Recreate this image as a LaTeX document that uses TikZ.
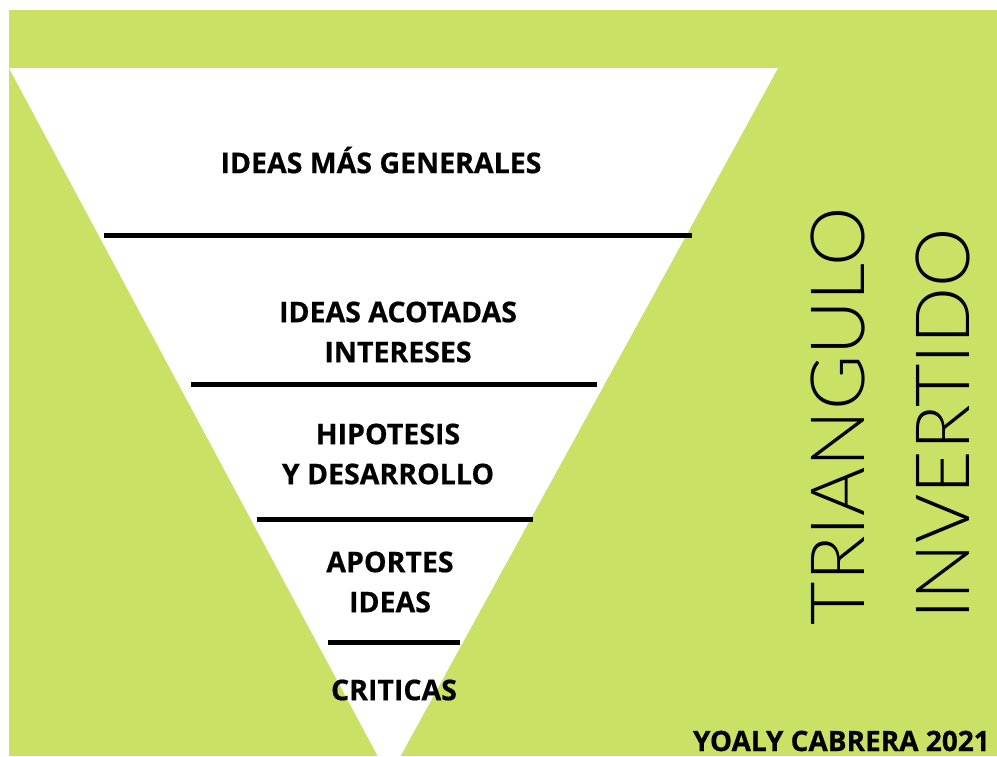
\documentclass[tikz,border=0pt]{standalone}
\usepackage{fontspec}
\setmainfont{Open Sans}
\newfontfamily\heavyfont{Open Sans}[BoldFeatures={FakeBold=0.6}]
\newfontfamily\thinfont{Lato Light}
\definecolor{limegreen}{HTML}{C9E265}
\tikzset{
  level/.style={font=\heavyfont\bfseries\fontsize{28.5}{40}\selectfont, align=center, inner sep=0pt},
  rule/.style={line width=5pt},
  title/.style={font=\thinfont\fontsize{75}{75}\selectfont, rotate=90, inner sep=0pt},
}
\begin{document}
\begin{tikzpicture}[x=1pt,y=-1pt]
  \useasboundingbox (0,0) rectangle (997,756);
  \clip (0,0) rectangle (997,756);
  % background and inverted triangle
  \fill[limegreen] (9,10) rectangle (997,756);
  \fill[white] (9,68) -- (778,68) -- (389,777) -- cycle;

  % separating rules
  \foreach \y/\a/\b in {235/104/692, 384/191/597, 519/257/533, 642/328/460}
    \draw[rule] (\a,\y) -- (\b,\y);

  \node[level] (general) at (381,160) {IDEAS MÁS GENERALES};
  \node[level] (acotadas) at (398,332) {IDEAS ACOTADAS\\INTERESES};
  \node[level] (hipotesis) at (388,454) {HIPOTESIS\\Y DESARROLLO};
  \node[level] (aportes) at (390,582) {APORTES\\IDEAS};
  \node[level] (criticas) at (394,690) {CRITICAS};

  \node[title] (triangulo) at (838,416) {TRIANGULO};
  \node[title] (invertido) at (943,424) {INVERTIDO};

  \node[level, font=\heavyfont\bfseries\fontsize{28}{30}\selectfont, anchor=base east] (autor) at (990,751) {YOALY CABRERA 2021};
\end{tikzpicture}
\end{document}
